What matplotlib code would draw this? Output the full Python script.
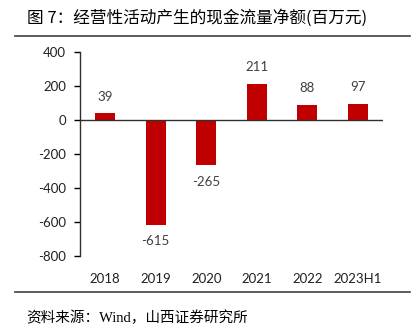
import matplotlib
matplotlib.use('Agg')
import matplotlib.pyplot as plt
from matplotlib.lines import Line2D
import numpy as np

# Data
categories = ['2018', '2019', '2020', '2021', '2022', '2023H1']
cash_flow = [39, -615, -265, 211, 88, 97]
y_ticks = [400, 200, 0, -200, -400, -600, -800]

bar_color = '#C00000'
label_color = '#404040'
num_font = ['Lato', 'DejaVu Sans']

fig = plt.figure(figsize=(4.18, 3.28), dpi=100)
ax = fig.add_axes([80 / 418, 1 - 256 / 328, 303 / 418, 204 / 328])

x = np.arange(len(categories))
ax.bar(x, cash_flow, width=0.4, color=bar_color, zorder=2)
ax.axhline(0, color='#303030', lw=1.0, zorder=3)

for xi, v in zip(x, cash_flow):
    off = 12 if v >= 0 else -12
    ax.annotate(str(v), (xi, v), xytext=(0, off), textcoords='offset points',
                ha='center', va='center', fontsize=9.5, color=label_color,
                family=num_font)

ax.set_xlim(-0.5, 5.5)
ax.set_ylim(-800, 400)
ax.set_yticks(y_ticks)
ax.set_yticklabels([str(t) for t in y_ticks], family=num_font, fontsize=9.5,
                   color='#202020')
ax.set_xticks(x)
ax.set_xticklabels(categories, family=num_font, fontsize=9.5, color='#202020')
ax.tick_params(axis='x', length=0, pad=12)
ax.tick_params(axis='y', direction='out', length=4, width=1, pad=6)
for s in ['top', 'right', 'bottom']:
    ax.spines[s].set_visible(False)
ax.spines['left'].set_color('#303030')
ax.spines['left'].set_linewidth(1.0)

# Title and source
fig.text(27 / 418, 1 - 18 / 328, '图 7：经营性活动产生的现金流量净额(百万元)',
         family=['Noto Sans CJK SC', 'DejaVu Sans'], fontsize=12, va='center', ha='left')
fig.add_artist(Line2D([15 / 418, 410 / 418], [1 - 36 / 328, 1 - 36 / 328],
                      color='#404040', lw=1.2, transform=fig.transFigure))
fig.add_artist(Line2D([15 / 418, 410 / 418], [1 - 292 / 328, 1 - 292 / 328],
                      color='#404040', lw=1.2, transform=fig.transFigure))
fig.text(26 / 418, 1 - 318 / 328, '资料来源：Wind，山西证券研究所',
         family=['Liberation Serif', 'Noto Sans CJK SC'], fontsize=10.5, va='center', ha='left')

fig.savefig('out.png', dpi=100)
